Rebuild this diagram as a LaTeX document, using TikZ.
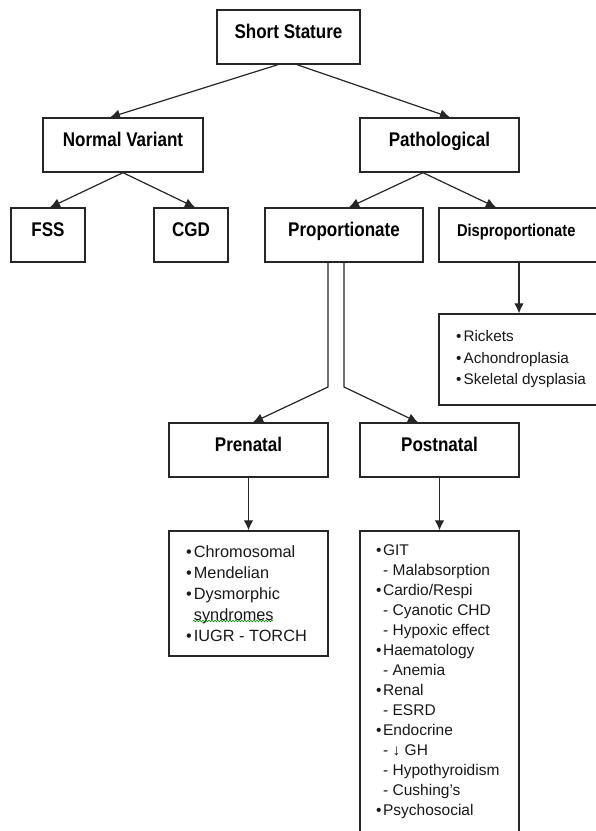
\documentclass[tikz,border=0pt]{standalone}
\usepackage{fontspec}
\setmainfont{Liberation Sans}
\newfontfamily\hfont{Liberation Sans}[FakeStretch=0.86]
\usetikzlibrary{arrows.meta,decorations.pathmorphing}
\begin{document}
\begin{tikzpicture}[x=1pt,y=-1pt,
  box/.style={draw=black!85,line width=1.35pt,inner sep=0pt,fill=white},
  hd/.style={box,font=\hfont\bfseries\fontsize{19.8}{22}\selectfont,text height=6pt,text depth=4pt},
  conn/.style={draw=black!85,line width=1.2pt,line join=round,-{Latex[length=10pt,width=9.5pt]}},
  lst/.style={anchor=north west,inner sep=0pt,align=left,text=black!90}]
\useasboundingbox (0,0) rectangle (596,831);
\clip (0,0) rectangle (596,831);
\fill[white] (0,0) rectangle (596,831);

% heading boxes
\node[hd,minimum width=143pt,minimum height=54pt] (ss) at (288.5,37) {Short Stature};
\node[hd,minimum width=160pt,minimum height=54pt] (nv) at (123,145) {Normal Variant};
\node[hd,minimum width=159pt,minimum height=54pt] (path) at (439.5,145) {Pathological};
\node[hd,minimum width=74pt,minimum height=54pt] (fss) at (48,235) {FSS};
\node[hd,minimum width=74pt,minimum height=54pt] (cgd) at (191,235) {CGD};
\node[hd,minimum width=158pt,minimum height=54pt] (prop) at (344,235) {Proportionate};
\node[hd,minimum width=181pt,minimum height=54pt,text width=145pt,inner xsep=18pt,align=left,
      font=\hfont\bfseries\fontsize{17.1}{20}\selectfont] (disp) at (529.5,235) {Disproportionate};
\node[hd,minimum width=159pt,minimum height=54pt] (pre) at (248.5,450) {Prenatal};
\node[hd,minimum width=159pt,minimum height=54pt] (post) at (439.5,450) {Postnatal};

% list boxes
\node[box,minimum width=181pt,minimum height=91pt] (rick) at (529.5,359.5) {};
\node[box,minimum width=159pt,minimum height=125pt] (prelist) at (248.5,593.5) {};
\node[box,minimum width=159pt,minimum height=329pt] (postlist) at (439.5,695.5) {};

% list texts
\node[lst,font=\fontsize{15.3}{21.5}\selectfont] (ricktxt) at (456,326.5)
  {\strut•\hspace{2pt}Rickets\\ •\hspace{2pt}Achondroplasia\\ •\hspace{2pt}Skeletal dysplasia};
\node[lst,font=\fontsize{16.3}{21.2}\selectfont] (pretxt) at (186,542)
  {\strut•\hspace{2pt}Chromosomal\\ •\hspace{2pt}Mendelian\\ •\hspace{2pt}Dysmorphic\\ \hspace*{7.7pt}syndromes\\ •\hspace{2pt}IUGR - TORCH};
\node[lst,font=\fontsize{15.5}{20}\selectfont] (posttxt) at (376,541.6)
  {\strut•\hspace{1.5pt}GIT\\
   \hspace*{7pt}- Malabsorption\\
   •\hspace{1.5pt}Cardio/Respi\\
   \hspace*{7pt}- Cyanotic CHD\\
   \hspace*{7pt}- Hypoxic effect\\
   •\hspace{1.5pt}Haematology\\
   \hspace*{7pt}- Anemia\\
   •\hspace{1.5pt}Renal\\
   \hspace*{7pt}- ESRD\\
   •\hspace{1.5pt}Endocrine\\
   \hspace*{7pt}- ↓ GH\\
   \hspace*{7pt}- Hypothyroidism\\
   \hspace*{7pt}- Cushing's\\
   •\hspace{1.5pt}Psychosocial};

% spell-check underline
\coordinate (w1) at (193,621);
\coordinate (w2) at (273,621);
\draw[green!55!black,line width=0.6pt,decorate,decoration={snake,amplitude=0.8pt,segment length=3pt}] (w1) -- (w2);

% connectors
\draw[conn] ([xshift=-10.5pt]ss.south) -- ([xshift=-13pt]nv.north);
\draw[conn] ([xshift=8.5pt]ss.south) -- ([xshift=10.5pt]path.north);
\draw[conn] (nv.south) -- ([xshift=2pt]fss.north);
\draw[conn] (nv.south) -- ([xshift=4pt]cgd.north);
\draw[conn] ([xshift=-16.5pt]path.south) -- ([xshift=5pt]prop.north);
\draw[conn] ([xshift=-16.5pt]path.south) -- ([xshift=-33.5pt]disp.north);
\coordinate (b1) at (328,387);
\coordinate (b2) at (344,387);
\draw[conn] ([xshift=-16pt]prop.south) -- (b1) -- ([xshift=4.5pt]pre.north);
\draw[conn] (prop.south) -- (b2) -- ([xshift=-21.5pt]post.north);
\draw[conn] ([xshift=-10.5pt]disp.south) -- ([xshift=-10.5pt]rick.north);
\draw[conn] (pre.south) -- (prelist.north);
\draw[conn] (post.south) -- (postlist.north);
\end{tikzpicture}
\end{document}
